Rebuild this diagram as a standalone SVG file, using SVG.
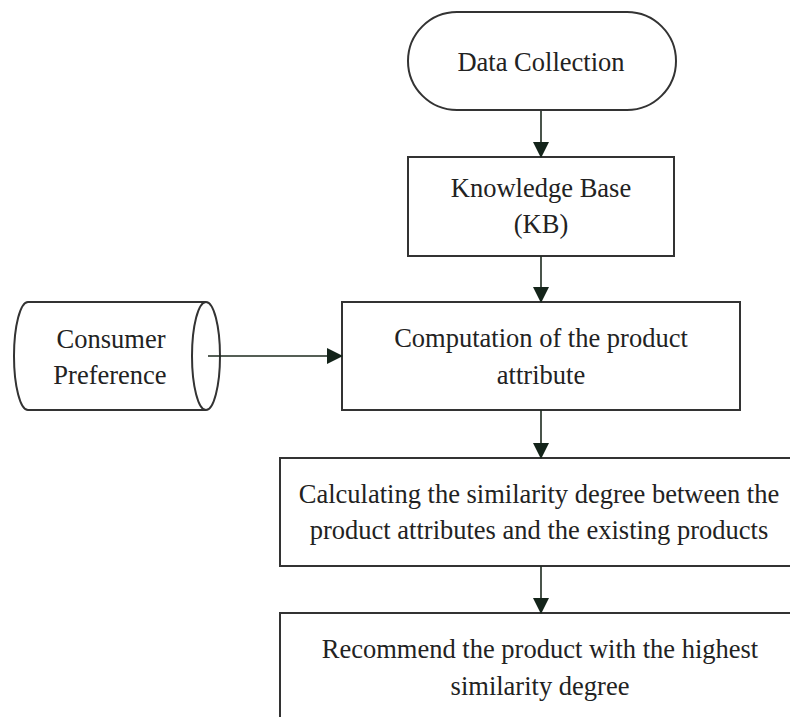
<svg xmlns="http://www.w3.org/2000/svg" width="790" height="717" viewBox="0 0 790 717">
<style>
.n{fill:#fff;stroke:#333;stroke-width:2}
.t{font-family:"Liberation Serif","Times New Roman",serif;font-size:26.5px;fill:#222;text-anchor:middle}
.c{stroke:#1c2a1e;stroke-width:1.6;fill:none;marker-end:url(#ah)}
</style>
<defs>
<marker id="ah" markerWidth="16" markerHeight="16" viewBox="0 0 16 16" refX="15" refY="8" orient="auto" markerUnits="userSpaceOnUse">
<path d="M0,0 L16,8 L0,16 Z" fill="#14241a"/>
</marker>
</defs>
<rect width="790" height="717" fill="#fff"/>
<g id="data-collection">
<rect class="n" x="408" y="12" width="268" height="98" rx="49" ry="49"/>
<text class="t" x="541" y="71">Data Collection</text>
</g>
<g id="knowledge-base">
<rect class="n" x="408" y="157" width="266" height="99"/>
<text class="t" x="541" y="197">Knowledge Base</text>
<text class="t" x="541" y="233">(KB)</text>
</g>
<g id="consumer-preference">
<path class="n" d="M206,302 L28,302 A14,54 0 0 0 28,410 L206,410"/>
<ellipse class="n" cx="206" cy="356" rx="14" ry="54"/>
<text class="t" x="111" y="348">Consumer</text>
<text class="t" x="110" y="384">Preference</text>
</g>
<g id="computation">
<rect class="n" x="342" y="302" width="398" height="108"/>
<text class="t" x="541" y="347">Computation of the product</text>
<text class="t" x="541" y="384">attribute</text>
</g>
<g id="similarity">
<rect class="n" x="280" y="458" width="520" height="108"/>
<text class="t" x="539" y="503">Calculating the similarity degree between the</text>
<text class="t" x="539" y="539">product attributes and the existing products</text>
</g>
<g id="recommend">
<rect class="n" x="280" y="613" width="520" height="120"/>
<text class="t" x="540" y="658">Recommend the product with the highest</text>
<text class="t" x="540" y="695">similarity degree</text>
</g>
<g id="connectors">
<line class="c" x1="541" y1="111" x2="541" y2="157"/>
<line class="c" x1="541" y1="256" x2="541" y2="302"/>
<line class="c" x1="208" y1="356" x2="342" y2="356"/>
<line class="c" x1="541" y1="410" x2="541" y2="458"/>
<line class="c" x1="541" y1="566" x2="541" y2="613"/>
</g>
</svg>
